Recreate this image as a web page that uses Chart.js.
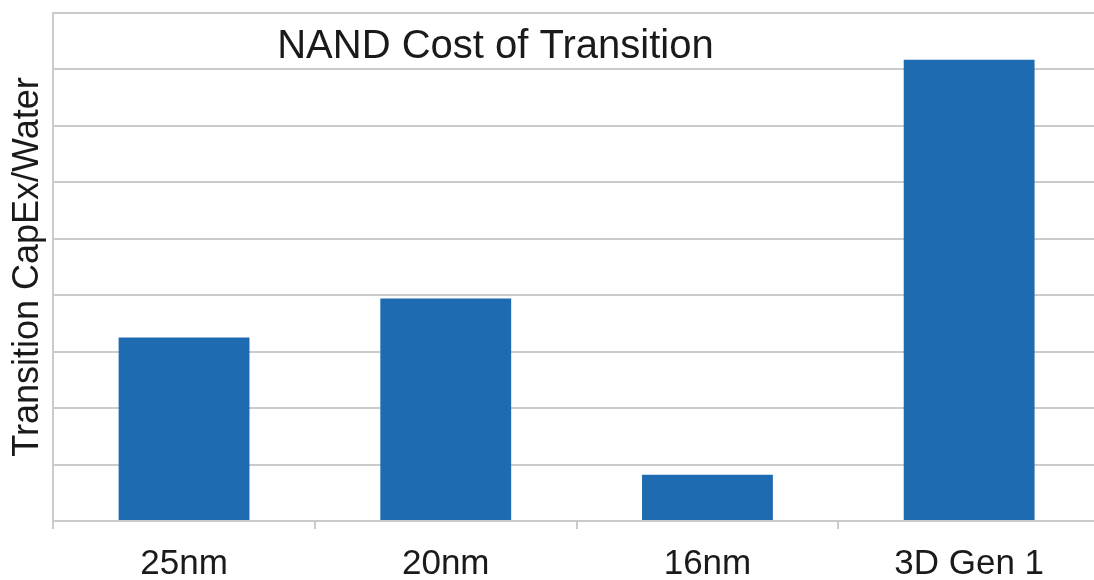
<!DOCTYPE html>
<html>
<head>
<meta charset="utf-8">
<script src="https://cdn.jsdelivr.net/npm/chart.js@4/dist/chart.umd.min.js"></script>
<style>
  html, body { margin: 0; padding: 0; background: #ffffff; overflow: hidden; }
  #wrap { width: 1094px; height: 580px; position: relative; overflow: hidden; }
  #c { display: block; }
</style>
</head>
<body>
<!-- the plot runs a few pixels past the right edge of the frame -->
<div id="wrap"><canvas id="c" width="1100" height="580"></canvas></div>
<script>
// Transition cost per technology node
const categories = ['25nm', '20nm', '16nm', '3D Gen 1'];
const capexPerWafer = [3.25, 3.94, 0.82, 8.17];
const chartTitle = 'NAND Cost of Transition';
const yAxisTitle = 'Transition CapEx/Water';

const FONT = '"Liberation Sans", Arial, Helvetica, sans-serif';
const GRID = '#cbcbcb';

// Title drawn inside the plot area, above the bars
const innerTitle = {
  id: 'innerTitle',
  afterDraw(chart) {
    const { ctx, chartArea } = chart;
    ctx.save();
    ctx.font = '40px ' + FONT;
    ctx.fillStyle = '#1a1a1a';
    ctx.textAlign = 'left';
    ctx.textBaseline = 'alphabetic';
    ctx.fillText(chartTitle, chartArea.left + 224, chartArea.top + 45);
    ctx.restore();
  }
};

new Chart(document.getElementById('c'), {
  type: 'bar',
  data: {
    labels: categories,
    datasets: [{
      data: capexPerWafer,
      backgroundColor: '#1e6bb1',
      borderWidth: 0,
      barPercentage: 0.5,
      categoryPercentage: 1.0
    }]
  },
  options: {
    responsive: false,
    animation: false,
    devicePixelRatio: 1,
    layout: { padding: { top: 13, right: 0, left: 6, bottom: 0 } },
    plugins: {
      legend: { display: false },
      tooltip: { enabled: false },
      title: { display: false }
    },
    scales: {
      x: {
        // fixed band under the plot for ticks and category labels
        afterFit(scale) { scale.height = 59; },
        grid: {
          offset: true,
          drawOnChartArea: false,
          drawTicks: true,
          tickLength: 8,
          color: GRID,
          lineWidth: 2
        },
        border: { color: GRID, width: 2 },
        ticks: {
          color: '#1a1a1a',
          font: { family: FONT, size: 35, lineHeight: 1.0 },
          padding: 18
        }
      },
      y: {
        min: 0,
        max: 9,
        ticks: { display: false, stepSize: 1 },
        grid: { color: GRID, lineWidth: 2, drawTicks: false },
        border: { color: GRID, width: 2 },
        title: {
          display: true,
          text: yAxisTitle,
          color: '#1a1a1a',
          font: { family: FONT, size: 36 },
          padding: { top: 0, bottom: 4 }
        }
      }
    }
  },
  plugins: [innerTitle]
});
</script>
</body>
</html>
